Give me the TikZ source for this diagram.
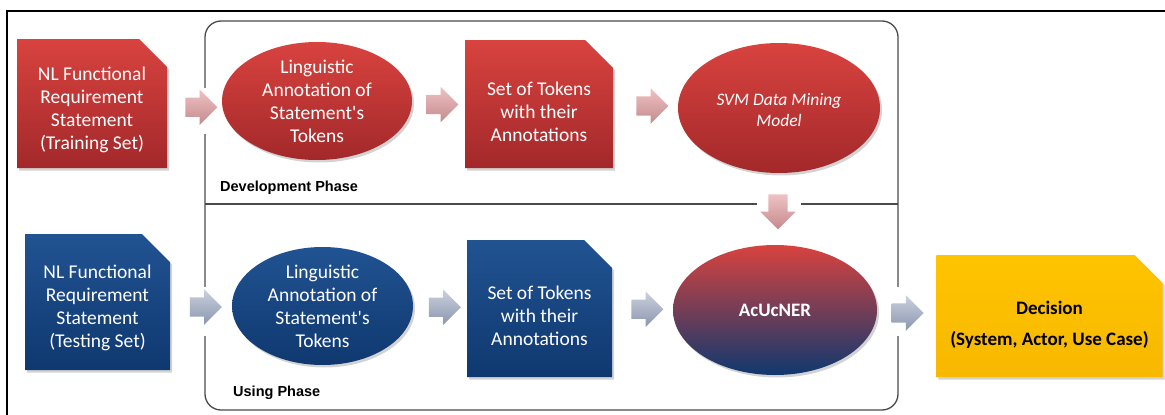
\documentclass[tikz,border=0pt]{standalone}
\usepackage{fontspec}
\setmainfont{Carlito}
\newfontfamily\plaincal{Carlito}
\newfontfamily\arialf{Liberation Sans}
\usetikzlibrary{shapes.misc,shapes.arrows,shapes.geometric,shadows,calc}
\definecolor{redtop}{HTML}{D8433F}
\definecolor{redbot}{HTML}{A3282A}
\definecolor{bluetop}{HTML}{215392}
\definecolor{bluebot}{HTML}{0F386F}
\definecolor{yeltop}{HTML}{FFC400}
\definecolor{yelbot}{HTML}{F7B800}
\definecolor{pinktop}{HTML}{EEC2C3}
\definecolor{pinkbot}{HTML}{C58A8D}
\definecolor{greytop}{HTML}{CBD0DC}
\definecolor{greybot}{HTML}{8A96B0}
\definecolor{framegrey}{HTML}{4A4A4A}
\newcommand\topgap[1]{\rule{0pt}{#1}}
\newcommand\apos{{\plaincal'}}
\tikzset{
  shad/.style={drop shadow={opacity=0.35,shadow xshift=2pt,shadow yshift=-2.5pt}},
  fold/.style={path picture={\draw[white,opacity=0.5,line width=7pt]
      ([xshift=-15pt]path picture bounding box.north east) --
      ([yshift=-15pt]path picture bounding box.north east);}},
  docbox/.style={chamfered rectangle, chamfered rectangle corners=north east,
      chamfered rectangle xsep=14pt, chamfered rectangle ysep=14pt,
      inner sep=0pt, align=center, shad, fold},
  redbox/.style={docbox, top color=redtop, bottom color=redbot, text=white,
      font=\fontsize{19.5}{23}\selectfont},
  bluebox/.style={docbox, top color=bluetop, bottom color=bluebot, text=white,
      font=\fontsize{19.5}{23}\selectfont},
  yelbox/.style={docbox, top color=yeltop, bottom color=yelbot, text=black,
      font=\bfseries\fontsize{19}{31}\selectfont},
  oval/.style={ellipse, inner sep=0pt, align=center, shad, text=white},
  redoval/.style={oval, top color=redtop, bottom color=redbot,
      font=\fontsize{19.5}{23}\selectfont},
  blueoval/.style={oval, top color=bluetop, bottom color=bluebot,
      font=\fontsize{19.5}{23}\selectfont},
  mixoval/.style={oval, top color=redtop, bottom color=bluebot,
      font=\bfseries\fontsize{19}{23}\selectfont},
  blockarrow/.style={single arrow, single arrow head extend=8pt,
      single arrow head indent=0pt, inner xsep=0pt, inner ysep=9.5pt,
      minimum height=32pt},
  redarrow/.style={blockarrow, top color=pinktop, bottom color=pinkbot},
  greyarrow/.style={blockarrow, top color=greytop, bottom color=greybot},
  phase/.style={font=\arialf\bfseries\fontsize{14.5}{17}\selectfont, anchor=west, inner sep=0pt},
  gap/.style={fill=white, draw=none}
}
\begin{document}
\begin{tikzpicture}[x=1pt,y=-1pt]
\useasboundingbox (0,0) rectangle (1165,415);
% outer frame (cropped)
\draw[line width=2.2pt] (7,417) -- (7,11) -- (1167,11);
% phase frame
\draw[framegrey, line width=1.3pt, rounded corners=16pt] (205,21) rectangle (898,410);
\fill[gap] (199,88) rectangle (211,134);
\fill[gap] (199,287) rectangle (211,336);
\fill[gap] (892,287) rectangle (904,336);
\node[phase] (devlabel) at (220,188) {Development Phase};
\node[phase] (uselabel) at (233,393) {Using Phase};
% red row
\node[redbox, minimum width=150pt, minimum height=129pt] (b1) at (92,103.5)
  {\topgap{26pt}NL Functional\\Requirement\\Statement\\(Training Set)};
\node[redoval, minimum width=190pt, minimum height=118pt] (e1) at (317,101)
  {Linguistic\\Annotation of\\Statement\apos s\\Tokens};
\node[redbox, minimum width=148pt, minimum height=128pt] (b2) at (539,104)
  {\topgap{29pt}Set of Tokens\\with their\\Annotations};
\node[redoval, minimum width=202pt, minimum height=130pt,
  font=\itshape\fontsize{17.5}{21}\selectfont] (svm) at (779,108)
  {\topgap{17pt}SVM Data Mining\\Model};
% blue row
\node[bluebox, minimum width=145pt, minimum height=136pt] (b3) at (97.5,302)
  {\topgap{26pt}NL Functional\\Requirement\\Statement\\(Testing Set)};
\node[blueoval, minimum width=181pt, minimum height=118pt] (e3) at (322.5,306)
  {Linguistic\\Annotation of\\Statement\apos s\\Tokens};
\node[bluebox, minimum width=145pt, minimum height=137pt] (b4) at (539.5,308.5)
  {\topgap{28pt}Set of Tokens\\with their\\Annotations};
\node[mixoval, minimum width=204pt, minimum height=130pt] (ner) at (775,310)
  {AcUcNER};
\node[yelbox, minimum width=225pt, minimum height=122pt] (dec) at (1049.5,316)
  {\topgap{31.5pt}Decision\\(System, Actor, Use Case)};
% divider
\draw[framegrey, line width=1.3pt] (205,204) -- (757,204);
\draw[framegrey, line width=1.3pt] (801,204) -- (898,204);
% block arrows
\node[redarrow] (a1) at ($(b1.east)!0.5!(e1.west)+(2,5)$) {};
\node[redarrow] (a2) at ($(e1.east)!0.5!(b2.west)+(-1,2)$) {};
\node[redarrow] (a3) at ($(b2.east)!0.5!(svm.west)+(2,0)$) {};
\node[redarrow, rotate=-90, minimum height=35pt] (a4) at ($(svm.south)!0.5!(ner.north)+(1,-2)$) {};
\node[greyarrow] (a5) at ($(b3.east)!0.5!(e3.west)+(0,3)$) {};
\node[greyarrow] (a6) at ($(e3.east)!0.5!(b4.west)$) {};
\node[greyarrow] (a7) at ($(b4.east)!0.5!(ner.west)$) {};
\node[greyarrow] (a8) at ($(ner.east)!0.5!(dec.west)+(-4,0)$) {};
\end{tikzpicture}
\end{document}
